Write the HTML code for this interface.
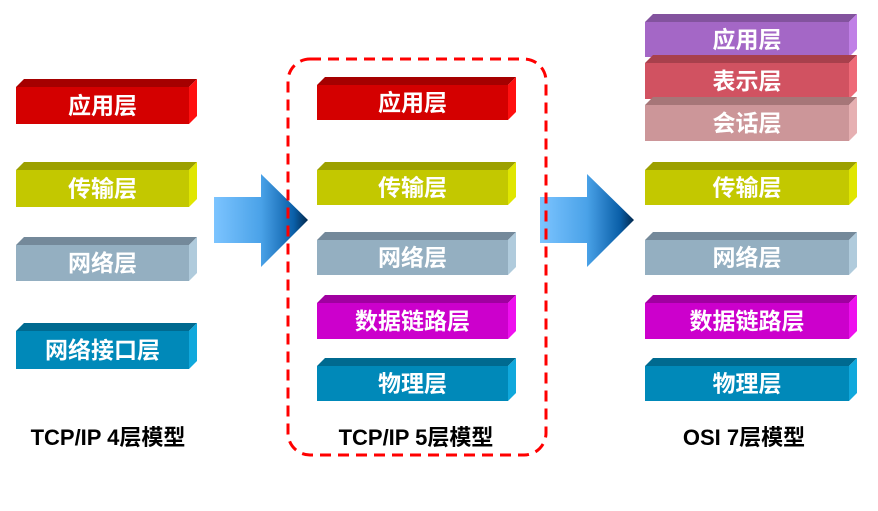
<!DOCTYPE html>
<html><head><meta charset="utf-8"><style>
html,body{margin:0;padding:0;background:#fff;width:878px;height:511px;overflow:hidden}
text{font-family:"Liberation Sans","Noto Sans CJK SC",sans-serif;font-weight:bold}
</style></head><body>
<svg width="878" height="511" viewBox="0 0 878 511" xmlns="http://www.w3.org/2000/svg">
<defs>
<linearGradient id="ag" x1="0" y1="0" x2="1" y2="0">
<stop offset="0" stop-color="#7cc4ff"/><stop offset="0.5" stop-color="#4aa2e8"/><stop offset="0.85" stop-color="#0a5fa8"/><stop offset="1" stop-color="#02284d"/>
</linearGradient>
</defs>
<g id="boxes"></g>
<polygon points="214,197 261,197 261,174 308,220 261,267 261,243 214,243" fill="url(#ag)"/>
<polygon points="540,197 587,197 587,174 634,220 587,267 587,243 540,243" fill="url(#ag)"/>
<rect x="288" y="59" width="258" height="396" rx="22" fill="none" stroke="#ff0000" stroke-width="3" stroke-dasharray="11,7"/>
<text x="108" y="445" font-size="22" text-anchor="middle" fill="#000">TCP/IP 4层模型</text>
<text x="416" y="445" font-size="22" text-anchor="middle" fill="#000">TCP/IP 5层模型</text>
<text x="744" y="445" font-size="22" text-anchor="middle" fill="#000">OSI 7层模型</text>
</svg>
<script>
const g=document.getElementById('boxes');const NS='http://www.w3.org/2000/svg';
const C={app:['#d40000','#a50000','#ff1010'],tr:['#c3c800','#9ca000','#e0e600'],net:['#94afc1','#74899a','#b0cbdc'],nif:['#0089b9','#006a90','#10a8dc'],dl:['#cc00cc','#a000a0','#ee10ee'],ph:['#0089b9','#006a90','#10a8dc'],app7:['#a467c6','#83539e','#c080e6'],pr:['#d15261','#a8404c','#ee6a78'],se:['#cc9699','#a67678','#e6b0b2']};
function box(x,y,w,h,c,t){const d=8;const [f,tp,sd]=C[c];
function p(pts,col){const e=document.createElementNS(NS,'polygon');e.setAttribute('points',pts);e.setAttribute('fill',col);g.appendChild(e);}
p(`${x},${y} ${x+d},${y-d} ${x+w+d},${y-d} ${x+w},${y}`,tp);
p(`${x+w},${y} ${x+w+d},${y-d} ${x+w+d},${y+h-d} ${x+w},${y+h}`,sd);
p(`${x},${y} ${x+w},${y} ${x+w},${y+h} ${x},${y+h}`,f);
const tx=document.createElementNS(NS,'text');tx.setAttribute('x',x+w/2);tx.setAttribute('y',y+h/2+8);tx.setAttribute('text-anchor','middle');tx.setAttribute('font-size','23');tx.setAttribute('fill','#fff');tx.textContent=t;g.appendChild(tx);}
box(16,87,173,37,'app','应用层');box(16,170,173,37,'tr','传输层');box(16,245,173,36,'net','网络层');box(16,331,173,38,'nif','网络接口层');
box(317,85,191,35,'app','应用层');box(317,170,191,35,'tr','传输层');box(317,240,191,35,'net','网络层');box(317,303,191,36,'dl','数据链路层');box(317,366,191,35,'ph','物理层');
box(645,22,204,35,'app7','应用层');box(645,63,204,36,'pr','表示层');box(645,105,204,36,'se','会话层');box(645,170,204,35,'tr','传输层');box(645,240,204,35,'net','网络层');box(645,303,204,36,'dl','数据链路层');box(645,366,204,35,'ph','物理层');
</script>
</body></html>
